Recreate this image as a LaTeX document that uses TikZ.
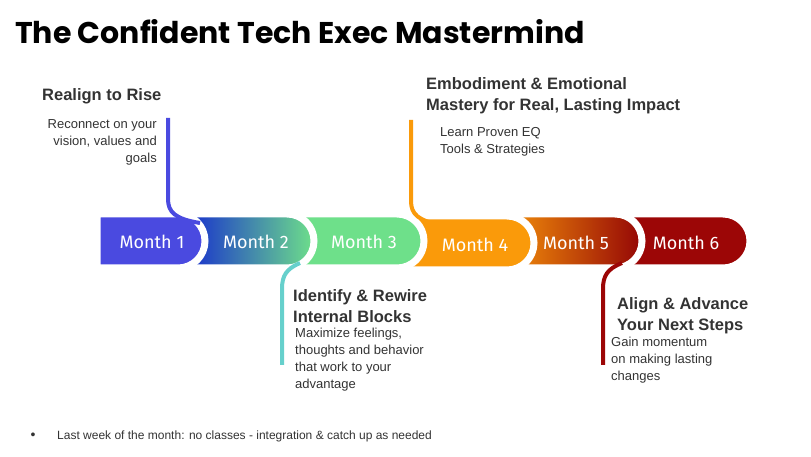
\documentclass[tikz,border=0pt]{standalone}
\usepackage{fontspec}
\setmainfont{Liberation Sans}
\newfontfamily\titlefont{Poppins}
\newfontfamily\monthfont{Fira Sans}
\definecolor{txtgray}{HTML}{333333}
\definecolor{mblue}{HTML}{4A4AE0}
\definecolor{mdeep}{HTML}{0A14D8}
\definecolor{mgreen}{HTML}{6EE08A}
\definecolor{morange}{HTML}{FA9A0A}
\definecolor{myellow}{HTML}{F8C020}
\definecolor{mred}{HTML}{9C0606}
\definecolor{mcyan}{HTML}{66D0CC}
\newcommand\monthseg[4]{% left, right, top, options
  \shadedraw[segment,#4] (#1,#3) -- ({#2-27},#3)
    arc[start angle=90,end angle=-90,radius=27pt] -- (#1,{#3-54}) -- cycle;}
\begin{document}
\begin{tikzpicture}[x=1pt,y=1pt,
    segment/.style={draw=white, line width=7pt},
    lbl/.style={text=white, font=\monthfont\fontsize{18}{18}\selectfont},
    head/.style={text=txtgray, font=\bfseries\fontsize{16.5}{21}\selectfont, align=left, inner sep=0pt},
    body/.style={text=txtgray, font=\fontsize{13}{17}\selectfont, inner sep=0pt},
    conn/.style={line width=4pt},
  ]
  \useasboundingbox (0,0) rectangle (811,457);
  \node[anchor=west, inner sep=0pt, font=\titlefont\bfseries\fontsize{30}{30}\selectfont] (title) at (15,425) {The Confident Tech Exec Mastermind};

  % timeline, drawn right to left
  \monthseg{606}{750}{243}{left color=mred, right color=mred}
  \monthseg{496}{642}{243}{left color=morange, middle color=myellow, right color=mred!95!black}
  \monthseg{386}{534}{241}{left color=morange, right color=morange}
  \monthseg{276}{424}{243}{left color=mgreen, right color=mgreen}
  \monthseg{168}{314}{243}{left color=mdeep, right color=mgreen}
  \monthseg{97}{205}{243}{left color=mblue, right color=mblue}

  \node[lbl] (m1) at (152,215) {Month 1};
  \node[lbl] (m2) at (256,215) {Month 2};
  \node[lbl] (m3) at (364,215) {Month 3};
  \node[lbl] (m4) at (475,212) {Month 4};
  \node[lbl] (m5) at (576,214) {Month 5};
  \node[lbl] (m6) at (686,214) {Month 6};

  % connectors
  \coordinate (c1) at (168,339);
  \coordinate (c2) at (411,337);
  \coordinate (c3) at (282,92);
  \coordinate (c4) at (603,92);
  \draw[conn, mblue] (c1) -- (168,258) .. controls (168,245) and (175,238) .. (200,234);
  \draw[conn, morange] (c2) -- (411,256) .. controls (411,243) and (418,236) .. (442,232);
  \draw[conn, mcyan] (300,194) .. controls (286,188) and (282,181) .. (282,168) -- (c3);
  \draw[conn, mred] (622,194) .. controls (607,188) and (603,181) .. (603,168) -- (c4);

  % texts
  \node[head, anchor=west] (h1) at (42,361) {Realign to Rise};
  \node[body, anchor=north east, align=right] (b1) at (157,338) {Reconnect on your\\vision, values and\\goals};
  \node[head, anchor=north west] (h2) at (426,380) {Embodiment \& Emotional\\Mastery for Real, Lasting Impact};
  \node[body, anchor=north west, align=left] (b2) at (440,330) {Learn Proven EQ\\Tools \& Strategies};
  \node[head, anchor=north west] (h3) at (293,168) {Identify \& Rewire\\Internal Blocks};
  \node[body, anchor=north west, align=left] (b3) at (295,129) {Maximize feelings,\\thoughts and behavior\\that work to your\\advantage};
  \node[head, anchor=north west] (h4) at (617,160) {Align \& Advance\\Your Next Steps};
  \node[body, anchor=north west, align=left] (b4) at (611,120) {Gain momentum\\on making lasting\\changes};

  \node[text=txtgray, font=\fontsize{14}{14}\selectfont] (dot) at (33,21) {•};
  \node[body, anchor=west, font=\fontsize{12}{12}\selectfont] (note) at (57,21) {Last week of the month: no classes - integration \& catch up as needed};
\end{tikzpicture}
\end{document}
